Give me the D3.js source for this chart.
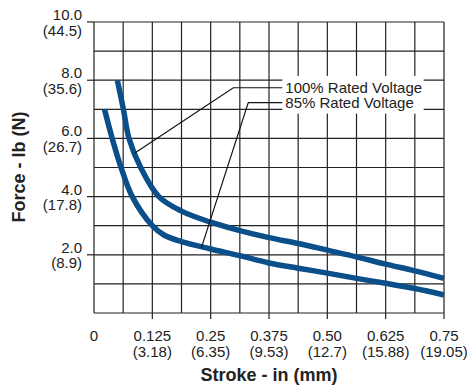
<!DOCTYPE html>
<html>
<head>
<meta charset="utf-8">
<style>
  body { margin: 0; background: #fff; }
  text { font-family: "Liberation Sans", Arial, Helvetica, sans-serif; fill: #222; }
</style>
</head>
<body>
<svg width="467" height="386"></svg>
<script src="https://cdn.jsdelivr.net/npm/d3@7"></script>
<script>

// stroke in inches, force in lb
var stroke100 = [0.05, 0.063, 0.075, 0.1, 0.139, 0.1875, 0.25, 0.3125, 0.375, 0.4375, 0.5, 0.5625, 0.625, 0.6875, 0.75];
var force100  = [8.0, 7.0, 6.0, 5.0, 4.0, 3.5, 3.12, 2.83, 2.59, 2.39, 2.16, 1.93, 1.68, 1.45, 1.19];

var stroke85 = [0.0225, 0.039, 0.058, 0.082, 0.125, 0.15, 0.1875, 0.25, 0.3125, 0.375, 0.4375, 0.5, 0.5625, 0.625, 0.6875, 0.75];
var force85  = [7.0, 6.0, 5.0, 4.0, 3.0, 2.68, 2.45, 2.2, 1.97, 1.72, 1.54, 1.37, 1.19, 1.02, 0.84, 0.62];

var xTicks = [0, 0.125, 0.25, 0.375, 0.5, 0.625, 0.75];
var xLabels = ["0", "0.125", "0.25", "0.375", "0.50", "0.625", "0.75"];
var xLabelsMm = ["", "(3.18)", "(6.35)", "(9.53)", "(12.7)", "(15.88)", "(19.05)"];

var yTicks = [2, 4, 6, 8, 10];
var yLabels = ["2.0", "4.0", "6.0", "8.0", "10.0"];
var yLabelsN = ["(8.9)", "(17.8)", "(26.7)", "(35.6)", "(44.5)"];

var seriesNames = ["100% Rated Voltage", "85% Rated Voltage"];
// leader lines: point on curve, elbow, end (stroke in, force lb)
var leader100 = [[0.0868, 5.49], [0.2985, 7.74], [0.4035, 7.74]];
var leader85  = [[0.23, 2.24], [0.3306, 7.23], [0.4035, 7.23]];

var svg = d3.select("svg"),
    margin = {top: 22, right: 23, bottom: 73, left: 94},
    width = +svg.attr("width") - margin.left - margin.right,
    height = +svg.attr("height") - margin.top - margin.bottom,
    g = svg.append("g").attr("transform", "translate(" + margin.left + "," + margin.top + ")");

var x = d3.scaleLinear().domain([0, 0.75]).range([0, width]);
var y = d3.scaleLinear().domain([0, 10]).range([height, 0]);

var gridColor = "#222";

// grid
g.append("g").selectAll("line")
    .data(d3.range(0, 13).map(function(i) { return i * 0.0625; }))
    .enter().append("line")
    .attr("x1", function(d) { return x(d); }).attr("x2", function(d) { return x(d); })
    .attr("y1", 0).attr("y2", height)
    .attr("stroke", gridColor).attr("stroke-width", 1.2);

g.append("g").selectAll("line")
    .data(d3.range(0, 11))
    .enter().append("line")
    .attr("y1", function(d) { return y(d); }).attr("y2", function(d) { return y(d); })
    .attr("x1", 0).attr("x2", width)
    .attr("stroke", gridColor).attr("stroke-width", 1.2);

// ticks
g.append("g").selectAll("line")
    .data(yTicks).enter().append("line")
    .attr("x1", -7).attr("x2", 0)
    .attr("y1", function(d) { return y(d); }).attr("y2", function(d) { return y(d); })
    .attr("stroke", gridColor).attr("stroke-width", 1.2);

g.append("g").selectAll("line")
    .data(xTicks.slice(1)).enter().append("line")
    .attr("x1", function(d) { return x(d); }).attr("x2", function(d) { return x(d); })
    .attr("y1", height).attr("y2", height + 6)
    .attr("stroke", gridColor).attr("stroke-width", 1.2);

// y tick labels
yTicks.forEach(function(d, i) {
  g.append("text").attr("x", -12).attr("y", y(d) - 2)
    .attr("text-anchor", "end").style("font-size", "15px").text(yLabels[i]);
  g.append("text").attr("x", -12).attr("y", y(d) + 13.5)
    .attr("text-anchor", "end").style("font-size", "15px").text(yLabelsN[i]);
});

// x tick labels
xTicks.forEach(function(d, i) {
  g.append("text").attr("x", x(d)).attr("y", height + 27.5)
    .attr("text-anchor", "middle").style("font-size", "15px").text(xLabels[i]);
  g.append("text").attr("x", x(d)).attr("y", height + 43.5)
    .attr("text-anchor", "middle").style("font-size", "15px").text(xLabelsMm[i]);
});

// axis titles
svg.append("text")
    .attr("transform", "translate(25," + (margin.top + y(5) - 0.5) + ") rotate(-90)")
    .attr("text-anchor", "middle")
    .style("font-size", "18px").style("font-weight", "bold")
    .text("Force - lb (N)");

svg.append("text")
    .attr("x", 269).attr("y", 381)
    .attr("text-anchor", "middle")
    .style("font-size", "18px").style("font-weight", "bold")
    .text("Stroke - in (mm)");

// curves
var line = d3.line()
    .x(function(d) { return x(d[0]); })
    .y(function(d) { return y(d[1]); })
    .curve(d3.curveCatmullRom.alpha(0.5));

var curveColor = "#0b4f8a";
g.append("path")
    .datum(d3.zip(stroke100, force100))
    .attr("fill", "none").attr("stroke", curveColor).attr("stroke-width", 5.5)
    .attr("d", line);
g.append("path")
    .datum(d3.zip(stroke85, force85))
    .attr("fill", "none").attr("stroke", curveColor).attr("stroke-width", 5.5)
    .attr("d", line);

// legend box
var boxX0 = x(0.4035), boxX1 = x(0.7065);
g.append("rect")
    .attr("x", boxX0).attr("y", y(8.15))
    .attr("width", boxX1 - boxX0).attr("height", y(6.85) - y(8.15))
    .attr("fill", "#fff");

var straight = d3.line()
    .x(function(d) { return x(d[0]); })
    .y(function(d) { return y(d[1]); });

[leader100, leader85].forEach(function(pts, i) {
  g.append("path").datum(pts)
    .attr("fill", "none").attr("stroke", "#111").attr("stroke-width", 1.2)
    .attr("d", straight);
  g.append("text")
    .attr("x", boxX0 + 3).attr("y", y(pts[2][1]) + 5)
    .style("font-size", "15px")
    .text(seriesNames[i]);
});

</script>
</body>
</html>
